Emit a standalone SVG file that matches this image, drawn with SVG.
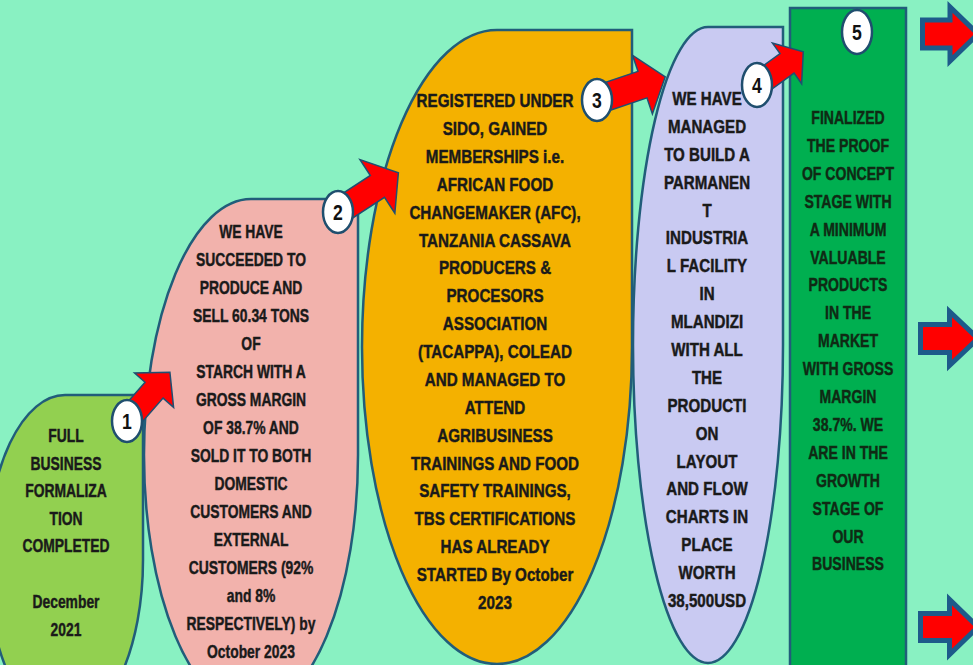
<svg xmlns="http://www.w3.org/2000/svg" width="973" height="665" viewBox="0 0 973 665">
<defs>
<style>
.shape{stroke:#215d7a;stroke-width:2.5}
.t{font-family:"Liberation Sans",Arial,sans-serif;font-weight:bold;font-size:19px;text-anchor:middle;fill:#1a1a1a;stroke:#1a1a1a;stroke-width:0.45}
.t5{fill:#0f2a14;stroke:#0f2a14}
.arrow{fill:#ff0000;stroke:#1f4f72;stroke-width:1.5;stroke-linejoin:miter}
.bigarrow{fill:#ff0000;stroke:#1d5a8a;stroke-width:5;stroke-linejoin:miter}
.badge{fill:#ffffff;stroke:#1f4e6e;stroke-width:2.5}
.num{font-family:"Liberation Sans",Arial,sans-serif;font-weight:bold;font-size:22px;text-anchor:middle;fill:#111}
</style>
</defs>
<rect x="0" y="0" width="973" height="665" fill="#89f1c2"/>

<g id="node1">
<path class="shape" fill="#92d050" d="M65,395 L143,395 L143,560 A78,165 0 0 1 65,725 A78,165 0 0 1 -13,560 A78,165 0 0 1 65,395 Z"/>
<g transform="translate(66,0) scale(0.73,1)">
<text class="t" x="0" y="442">FULL</text>
<text class="t" x="0" y="470">BUSINESS</text>
<text class="t" x="0" y="497">FORMALIZA</text>
<text class="t" x="0" y="525">TION</text>
<text class="t" x="0" y="552">COMPLETED</text>
<text class="t" x="0" y="608">December</text>
<text class="t" x="0" y="636">2021</text>
</g>
</g>

<g id="node2">
<path class="shape" fill="#f2b2ac" d="M251,199 L358,199 L358,455 A107,256 0 0 1 251,711 A107,256 0 0 1 144,455 A107,256 0 0 1 251,199 Z"/>
<g transform="translate(251,0) scale(0.73,1)">
<text class="t" x="0" y="238">WE HAVE</text>
<text class="t" x="0" y="266">SUCCEEDED TO</text>
<text class="t" x="0" y="294">PRODUCE AND</text>
<text class="t" x="0" y="322">SELL 60.34 TONS</text>
<text class="t" x="0" y="350">OF</text>
<text class="t" x="0" y="378">STARCH WITH A</text>
<text class="t" x="0" y="406">GROSS MARGIN</text>
<text class="t" x="0" y="434">OF 38.7% AND</text>
<text class="t" x="0" y="462">SOLD IT TO BOTH</text>
<text class="t" x="0" y="490">DOMESTIC</text>
<text class="t" x="0" y="518">CUSTOMERS AND</text>
<text class="t" x="0" y="546">EXTERNAL</text>
<text class="t" x="0" y="574">CUSTOMERS (92%</text>
<text class="t" x="0" y="602">and 8%</text>
<text class="t" x="0" y="630">RESPECTIVELY) by</text>
<text class="t" x="0" y="658">October 2023</text>
</g>
</g>

<g id="node3">
<path class="shape" fill="#f4b100" d="M497,30 L632,30 L632,347 A135,317 0 0 1 497,664 A135,317 0 0 1 362,347 A135,317 0 0 1 497,30 Z"/>
<g transform="translate(495,0) scale(0.8,1)">
<text class="t" x="0" y="107">REGISTERED UNDER</text>
<text class="t" x="0" y="135">SIDO, GAINED</text>
<text class="t" x="0" y="163">MEMBERSHIPS i.e.</text>
<text class="t" x="0" y="191">AFRICAN FOOD</text>
<text class="t" x="0" y="219">CHANGEMAKER (AFC),</text>
<text class="t" x="0" y="247">TANZANIA CASSAVA</text>
<text class="t" x="0" y="274">PRODUCERS &amp;</text>
<text class="t" x="0" y="302">PROCESORS</text>
<text class="t" x="0" y="330">ASSOCIATION</text>
<text class="t" x="0" y="358">(TACAPPA), COLEAD</text>
<text class="t" x="0" y="386">AND MANAGED TO</text>
<text class="t" x="0" y="414">ATTEND</text>
<text class="t" x="0" y="442">AGRIBUSINESS</text>
<text class="t" x="0" y="470">TRAININGS AND FOOD</text>
<text class="t" x="0" y="497">SAFETY TRAININGS,</text>
<text class="t" x="0" y="525">TBS CERTIFICATIONS</text>
<text class="t" x="0" y="553">HAS ALREADY</text>
<text class="t" x="0" y="581">STARTED By October</text>
<text class="t" x="0" y="609">2023</text>
</g>
</g>

<g id="node4">
<path class="shape" fill="#c9caf2" d="M708,27 L783,27 L783,345 A75,318 0 0 1 708,663 A75,318 0 0 1 633,345 A75,318 0 0 1 708,27 Z"/>
<g transform="translate(707,0) scale(0.84,1)">
<text class="t" x="0" y="105" style="font-size:18px">WE HAVE</text>
<text class="t" x="0" y="133" style="font-size:18px">MANAGED</text>
<text class="t" x="0" y="161" style="font-size:18px">TO BUILD A</text>
<text class="t" x="0" y="189" style="font-size:18px">PARMANEN</text>
<text class="t" x="0" y="217" style="font-size:18px">T</text>
<text class="t" x="0" y="244" style="font-size:18px">INDUSTRIA</text>
<text class="t" x="0" y="272" style="font-size:18px">L FACILITY</text>
<text class="t" x="0" y="300" style="font-size:18px">IN</text>
<text class="t" x="0" y="328" style="font-size:18px">MLANDIZI</text>
<text class="t" x="0" y="356" style="font-size:18px">WITH ALL</text>
<text class="t" x="0" y="384" style="font-size:18px">THE</text>
<text class="t" x="0" y="412" style="font-size:18px">PRODUCTI</text>
<text class="t" x="0" y="440" style="font-size:18px">ON</text>
<text class="t" x="0" y="468" style="font-size:18px">LAYOUT</text>
<text class="t" x="0" y="495" style="font-size:18px">AND FLOW</text>
<text class="t" x="0" y="523" style="font-size:18px">CHARTS IN</text>
<text class="t" x="0" y="551" style="font-size:18px">PLACE</text>
<text class="t" x="0" y="579" style="font-size:18px">WORTH</text>
<text class="t" x="0" y="607" style="font-size:18px">38,500USD</text>
</g>
</g>

<g id="node5">
<rect class="shape" fill="#00af50" x="790" y="8" width="116" height="680"/>
<g transform="translate(848,0) scale(0.74,1)">
<text class="t t5" x="0" y="124">FINALIZED</text>
<text class="t t5" x="0" y="152">THE PROOF</text>
<text class="t t5" x="0" y="180">OF CONCEPT</text>
<text class="t t5" x="0" y="208">STAGE WITH</text>
<text class="t t5" x="0" y="236">A MINIMUM</text>
<text class="t t5" x="0" y="264">VALUABLE</text>
<text class="t t5" x="0" y="291">PRODUCTS</text>
<text class="t t5" x="0" y="319">IN THE</text>
<text class="t t5" x="0" y="347">MARKET</text>
<text class="t t5" x="0" y="375">WITH GROSS</text>
<text class="t t5" x="0" y="403">MARGIN</text>
<text class="t t5" x="0" y="431">38.7%. WE</text>
<text class="t t5" x="0" y="459">ARE IN THE</text>
<text class="t t5" x="0" y="487">GROWTH</text>
<text class="t t5" x="0" y="515">STAGE OF</text>
<text class="t t5" x="0" y="543">OUR</text>
<text class="t t5" x="0" y="570">BUSINESS</text>
</g>
</g>

<g id="connectors">
<path class="arrow" transform="translate(127,421) rotate(-48.7)" d="M0,-12 L41,-12 L41,-26 L65,0 L41,26 L41,12 L0,12 Z"/>
<path class="arrow" transform="translate(338,212) rotate(-33)" d="M0,-13 L47,-13 L47,-32 L72,0 L47,32 L47,13 L0,13 Z"/>
<path class="arrow" transform="translate(597,100) rotate(-18.7)" d="M0,-14 L48,-14 L48,-31 L72,0 L48,31 L48,14 L0,14 Z"/>
<path class="arrow" transform="translate(757,85) rotate(-35.7)" d="M0,-12 L37,-12 L37,-25 L57,0 L37,25 L37,12 L0,12 Z"/>
<path class="bigarrow" d="M922.5,20 L950,20 L950,7 L978,34 L950,61 L950,48 L922.5,48 Z"/>
<path class="bigarrow" d="M920.5,324.5 L949.5,324.5 L949.5,311.5 L978,338.5 L949.5,365.5 L949.5,352.5 L920.5,352.5 Z"/>
<path class="bigarrow" d="M920.5,613.5 L949.5,613.5 L949.5,599.5 L978,627 L949.5,654.5 L949.5,640.5 L920.5,640.5 Z"/>
</g>

<g id="badge1"><ellipse class="badge" cx="127" cy="421" rx="15" ry="21"/><text class="num" transform="translate(127,0) scale(0.8,1)" x="0" y="429">1</text></g>
<g id="badge2"><ellipse class="badge" cx="338" cy="212" rx="15" ry="21"/><text class="num" transform="translate(338,0) scale(0.8,1)" x="0" y="220">2</text></g>
<g id="badge3"><ellipse class="badge" cx="597" cy="100" rx="15" ry="21"/><text class="num" transform="translate(597,0) scale(0.8,1)" x="0" y="108">3</text></g>
<g id="badge4"><ellipse class="badge" cx="757" cy="85" rx="15" ry="22"/><text class="num" transform="translate(757,0) scale(0.8,1)" x="0" y="93">4</text></g>
<g id="badge5"><ellipse class="badge" cx="857" cy="32" rx="15" ry="22"/><text class="num" transform="translate(857,0) scale(0.8,1)" x="0" y="40">5</text></g>
</svg>
